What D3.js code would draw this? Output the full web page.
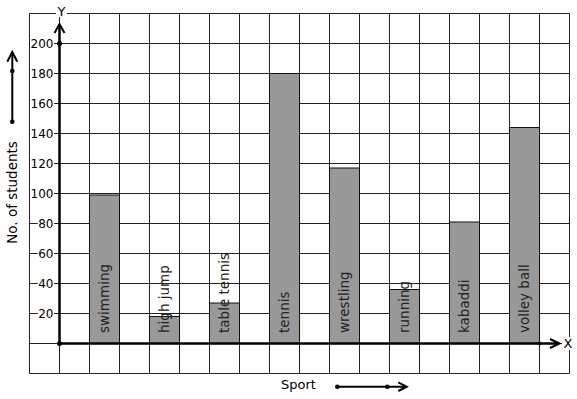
<!DOCTYPE html>
<html>
<head>
<meta charset="utf-8">
<script src="https://cdn.jsdelivr.net/npm/d3@7"></script>
<style>
  body { margin: 0; background: #fff; }
  text { font-family: "DejaVu Sans", sans-serif; }
</style>
</head>
<body>
<div class="container"></div>
<script>
const sports = ['swimming', 'high jump', 'table tennis', 'tennis', 'wrestling', 'running', 'kabaddi', 'volley ball'];
const students = [99, 18, 27, 180, 117, 36, 81, 144];
const yTicks = [20, 40, 60, 80, 100, 120, 140, 160, 180, 200];

const WIDTH = 577;
const HEIGHT = 399;

var svg = d3.select('.container').append('svg')
  .attr('width', WIDTH)
  .attr('height', HEIGHT);

var yScale = d3.scaleLinear()
  .domain([0, 200])
  .range([343.5, 43.5]);

var xScale = d3.scaleBand()
  .domain(sports)
  .range([59.5, 569.5])
  .paddingInner(0.5)
  .paddingOuter(0.5);

// grid columns, one per half step of the band scale
var step = xScale.step() / 2;
var colScale = d3.scaleLinear().domain([-1, 17]).range([59.5 - step, 59.5 + 17 * step]);
var gridTop = yScale(220), gridBottom = yScale(-20);

var grid = svg.append('g').attr('stroke', '#222').attr('stroke-width', 1);
grid.selectAll('line.v').data(d3.range(-1, 18))
  .enter().append('line')
  .attr('x1', d => colScale(d)).attr('x2', d => colScale(d))
  .attr('y1', gridTop).attr('y2', gridBottom);
grid.selectAll('line.h').data(d3.range(-20, 221, 20))
  .enter().append('line')
  .attr('x1', colScale(-1)).attr('x2', colScale(17))
  .attr('y1', d => yScale(d)).attr('y2', d => yScale(d));

// bars
svg.append('g').selectAll('rect').data(sports)
  .enter().append('rect')
  .attr('x', d => xScale(d))
  .attr('y', (d, i) => yScale(students[i]))
  .attr('width', xScale.bandwidth())
  .attr('height', (d, i) => yScale(0) - yScale(students[i]))
  .attr('fill', '#999')
  .attr('stroke', '#111')
  .attr('stroke-width', 1);

// bar labels
svg.append('g').selectAll('text').data(sports)
  .enter().append('text')
  .attr('transform', d => 'translate(' + (xScale(d) + xScale.bandwidth() / 2 + 4.5) + ',' + (yScale(0) - 10.5) + ') rotate(-90)')
  .attr('font-size', '13.5px')
  .attr('fill', '#222')
  .text(d => d);

// y tick labels with white backing
var ticks = svg.append('g');
ticks.selectAll('text').data(yTicks)
  .enter().append('text')
  .attr('x', 53.5)
  .attr('y', d => yScale(d))
  .attr('dy', '0.36em')
  .attr('text-anchor', 'end')
  .attr('font-size', '12px')
  .text(d => d)
  .each(function(){
    var b = this.getBBox();
    ticks.insert('rect', 'text')
      .attr('x', b.x - 0.5).attr('y', b.y + 1.5)
      .attr('width', b.width + 1).attr('height', b.height - 3)
      .attr('fill', '#fff');
  });

var arrow = function(g, pts){
  g.append('polyline')
    .attr('points', pts.map(p => p.join(',')).join(' '))
    .attr('fill', 'none').attr('stroke', '#000').attr('stroke-width', 2);
};

var axes = svg.append('g');
// y axis
axes.append('line')
  .attr('x1', 59.5).attr('x2', 59.5)
  .attr('y1', yScale(0)).attr('y2', 25)
  .attr('stroke', '#000').attr('stroke-width', 2.5);
arrow(axes, [[54.5, 33], [59.5, 24], [64.5, 33]]);
// x axis
axes.append('line')
  .attr('x1', 59.5).attr('x2', 559)
  .attr('y1', yScale(0)).attr('y2', yScale(0))
  .attr('stroke', '#000').attr('stroke-width', 2.5);
arrow(axes, [[550, 339], [559.5, 343.5], [550, 348]]);
axes.append('circle').attr('cx', 59.5).attr('cy', yScale(0)).attr('r', 2.5);
axes.append('circle').attr('cx', 59.5).attr('cy', yScale(200)).attr('r', 2.5);
axes.append('circle').attr('cx', 539.5).attr('cy', yScale(0)).attr('r', 2);

// axis letters
axes.append('rect').attr('x', 56).attr('y', 4).attr('width', 11).attr('height', 13).attr('fill', '#fff');
axes.append('text').attr('x', 61.5).attr('y', 15.5).attr('text-anchor', 'middle')
  .attr('font-size', '13px').text('Y');
axes.append('rect').attr('x', 562).attr('y', 337).attr('width', 12).attr('height', 13).attr('fill', '#fff');
axes.append('text').attr('x', 568).attr('y', 348).attr('text-anchor', 'middle')
  .attr('font-size', '13px').text('X');

// titles
svg.append('text')
  .attr('transform', 'translate(17,192.5) rotate(-90)')
  .attr('text-anchor', 'middle')
  .attr('font-size', '13.5px')
  .text('No. of students');
arrow(svg, [[12.3, 121.7], [12.3, 53]]);
arrow(svg, [[7.3, 61.7], [12.3, 52], [17.3, 61.7]]);
svg.append('circle').attr('cx', 12.3).attr('cy', 71).attr('r', 2.3);
svg.append('circle').attr('cx', 12.3).attr('cy', 121.7).attr('r', 2.3);

svg.append('text')
  .attr('x', 298.5).attr('y', 389)
  .attr('text-anchor', 'middle')
  .attr('font-size', '13px')
  .text('Sport');
arrow(svg, [[337.3, 386.7], [405, 386.7]]);
arrow(svg, [[398.3, 382.3], [406.7, 386.7], [398.3, 391]]);
svg.append('circle').attr('cx', 337.3).attr('cy', 386.7).attr('r', 2.3);
svg.append('circle').attr('cx', 387.3).attr('cy', 386.7).attr('r', 2.3);
</script>
</body>
</html>
